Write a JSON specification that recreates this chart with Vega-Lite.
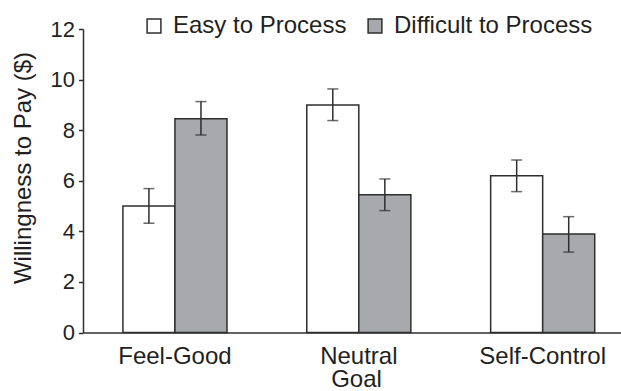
{
  "$schema": "https://vega.github.io/schema/vega-lite/v6.json",
  "width": 538,
  "height": 303.5,
  "autosize": {"type": "none"},
  "padding": {"left": 83, "top": 29, "right": 0, "bottom": 58.5},
  "background": "white",
  "config": {
    "font": "Liberation Sans",
    "view": {"stroke": null},
    "axis": {"grid": false, "domainColor": "#2e2e2e", "domainWidth": 1.5, "tickColor": "#2e2e2e", "tickWidth": 1.5, "labelColor": "#231f20", "titleColor": "#231f20", "titleFontWeight": "normal"}
  },
  "data": {
    "values": [
      {"goal": "Feel-Good", "cond": "Easy to Process", "mean": 5.0, "lo": 4.32, "hi": 5.69},
      {"goal": "Feel-Good", "cond": "Difficult to Process", "mean": 8.45, "lo": 7.81, "hi": 9.13},
      {"goal": "Neutral", "cond": "Easy to Process", "mean": 9.0, "lo": 8.38, "hi": 9.63},
      {"goal": "Neutral", "cond": "Difficult to Process", "mean": 5.45, "lo": 4.82, "hi": 6.07},
      {"goal": "Self-Control", "cond": "Easy to Process", "mean": 6.2, "lo": 5.57, "hi": 6.82},
      {"goal": "Self-Control", "cond": "Difficult to Process", "mean": 3.89, "lo": 3.18, "hi": 4.58}
    ]
  },
  "encoding": {
    "x": {
      "field": "goal",
      "type": "nominal",
      "sort": ["Feel-Good", "Neutral", "Self-Control"],
      "scale": {"paddingInner": 0.434, "paddingOuter": 0.18, "align": 0.603},
      "axis": {
        "title": "Goal",
        "titleFontSize": 24,
        "titleBaseline": "alphabetic",
        "titleX": 273,
        "titleY": 54,
        "labelAngle": 0,
        "labelFontSize": 24,
        "ticks": false,
        "tickSize": 0,
        "labelPadding": 12
      }
    },
    "xOffset": {
      "field": "cond",
      "type": "nominal",
      "scale": {"domain": ["Easy to Process", "Difficult to Process"]}
    }
  },
  "layer": [
    {
      "mark": {"type": "bar", "stroke": "#2e2e2e", "strokeWidth": 1.5},
      "encoding": {
        "y": {
          "field": "mean",
          "type": "quantitative",
          "scale": {"domain": [0, 12], "nice": false},
          "axis": {
            "values": [0, 2, 4, 6, 8, 10, 12],
            "title": "Willingness to Pay ($)",
            "titleFontSize": 24,
            "titleAngle": -90,
            "titleAlign": "center",
            "titleBaseline": "alphabetic",
            "titleX": -53,
            "titleY": 138.5,
            "labelFontSize": 22,
            "tickSize": 4.5,
            "labelPadding": 4
          }
        },
        "fill": {
          "field": "cond",
          "type": "nominal",
          "scale": {"domain": ["Easy to Process", "Difficult to Process"], "range": ["#ffffff", "#a7a9ac"]},
          "legend": {
            "title": null,
            "orient": "none",
            "direction": "horizontal",
            "legendX": 59,
            "legendY": -15,
            "padding": 0,
            "symbolType": "square",
            "symbolSize": 190,
            "symbolStrokeColor": "#2e2e2e",
            "symbolStrokeWidth": 1.5,
            "symbolOpacity": 1,
            "labelFontSize": 24,
            "labelColor": "#231f20",
            "labelOffset": 7,
            "columnPadding": 16,
            "labelLimit": 400
          }
        }
      }
    },
    {
      "mark": {"type": "rule", "color": "#2e2e2e", "strokeWidth": 1.5},
      "encoding": {
        "y": {"field": "lo", "type": "quantitative"},
        "y2": {"field": "hi"}
      }
    },
    {
      "mark": {"type": "tick", "color": "#2e2e2e", "thickness": 1.5, "size": 11},
      "encoding": {
        "y": {"field": "lo", "type": "quantitative"}
      }
    },
    {
      "mark": {"type": "tick", "color": "#2e2e2e", "thickness": 1.5, "size": 11},
      "encoding": {
        "y": {"field": "hi", "type": "quantitative"}
      }
    }
  ]
}
